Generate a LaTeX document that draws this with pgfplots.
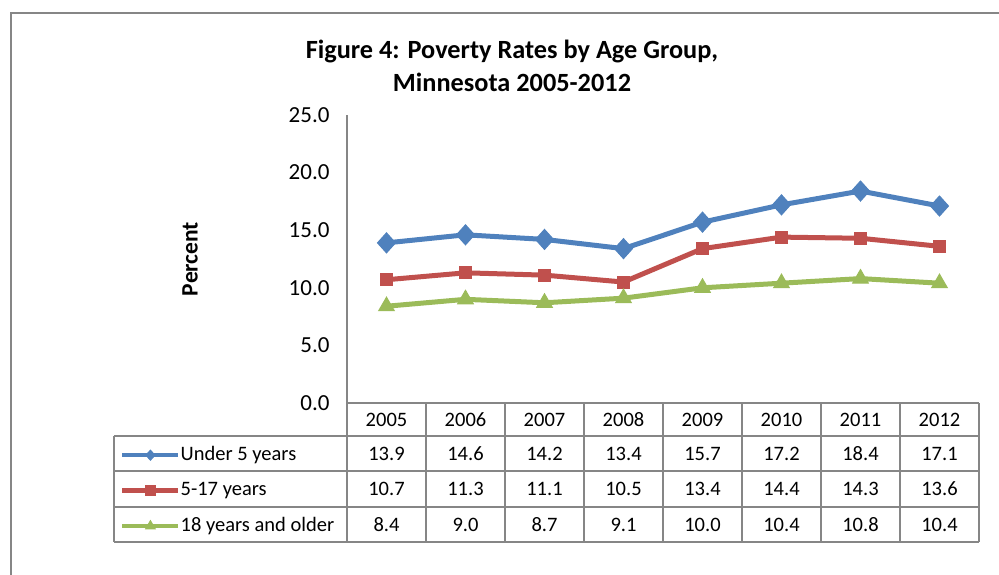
\documentclass[border=0pt]{standalone}
\usepackage{pgfplots}
\pgfplotsset{compat=1.18}
\usepackage{fontspec}
\setmainfont{Carlito}
\definecolor{cblue}{HTML}{4F81BD}
\definecolor{cred}{HTML}{C0504D}
\definecolor{cgreen}{HTML}{9BBB59}
\definecolor{cgrid}{HTML}{868686}
\begin{document}
\begin{tikzpicture}[x=1pt,y=1pt]
\useasboundingbox (0,0) rectangle (999,-575);
\draw[cgrid, line width=1.5pt] (11,-600) -- (11,-13) -- (1010,-13);
\node[font=\fontsize{26.3}{33}\selectfont\bfseries, align=center] at (512,-66) {Figure 4: Poverty Rates by Age Group,\\Minnesota 2005-2012};
\node[font=\fontsize{23.5}{28}\selectfont\bfseries, rotate=90] at (190,-259) {Percent};
\begin{axis}[
  at={(347pt,-403pt)}, anchor=south west,
  scale only axis, width=632pt, height=288pt,
  xmin=-0.5, xmax=7.5, ymin=0, ymax=25,
  axis x line=none, axis y line=left,
  axis line style={-, draw=cgrid, line width=1.5pt},
  ytick={0,5,...,25},
  major tick length=0pt,
  /pgf/number format/assume math mode=true,
  yticklabel style={/pgf/number format/.cd, fixed, fixed zerofill, precision=1, /tikz/.cd, font=\fontsize{23}{28}\selectfont, xshift=-14pt},
  clip=false,
  legend style={at={(-0.3592,-0.1458)}, anchor=north west, draw=none, fill=none, inner sep=0pt,
    row sep=15.5pt, column sep=0pt, font=\fontsize{20.5}{24}\selectfont,
    nodes={inner sep=0pt, text height=15pt, text depth=5pt}},
  legend cell align=left,
  legend image code/.code={\draw[#1, mark repeat=2, mark phase=2] plot coordinates {(0pt,0pt) (28pt,0pt) (56pt,0pt)};},
]
\addplot[cblue, line width=5pt, mark=diamond*, mark size=10pt, mark options={xscale=1.2, line width=1pt},
  legend image post style={mark size=5pt, line width=4.5pt}]
  coordinates {(0,13.9) (1,14.6) (2,14.2) (3,13.4) (4,15.7) (5,17.2) (6,18.4) (7,17.1)};
\addlegendentry{Under 5 years}
\addplot[cred, line width=5pt, mark=square*, mark size=6pt, mark options={line width=1pt},
  legend image post style={mark size=5pt, line width=4.5pt}]
  coordinates {(0,10.7) (1,11.3) (2,11.1) (3,10.5) (4,13.4) (5,14.4) (6,14.3) (7,13.6)};
\addlegendentry{5-17 years}
\addplot[cgreen, line width=5pt, mark=triangle*, mark size=9pt, mark options={line width=1pt},
  legend image post style={mark size=5.5pt, line width=4.5pt}]
  coordinates {(0,8.4) (1,9.0) (2,8.7) (3,9.1) (4,10.0) (5,10.4) (6,10.8) (7,10.4)};
\addlegendentry{18 years and older}
\end{axis}
% data table grid
\begin{scope}[cgrid, line width=1.5pt]
\draw (347,-403) -- (979,-403);
\foreach \yy in {436,471,507,542} \draw (114,-\yy) -- (979,-\yy);
\draw (114,-436) -- (114,-542);
\foreach \i in {0,...,8} \draw ({347+79*\i},-403) -- ({347+79*\i},-542);
\end{scope}
\begin{scope}[font=\fontsize{20.5}{24}\selectfont]
\foreach \t [count=\i from 0] in {2005,2006,2007,2008,2009,2010,2011,2012}
  \node at ({386.5+79*\i},-419.5) {\t};
\foreach \t [count=\i from 0] in {13.9,14.6,14.2,13.4,15.7,17.2,18.4,17.1}
  \node at ({386.5+79*\i},-453.5) {\t};
\foreach \t [count=\i from 0] in {10.7,11.3,11.1,10.5,13.4,14.4,14.3,13.6}
  \node at ({386.5+79*\i},-489) {\t};
\foreach \t [count=\i from 0] in {8.4,9.0,8.7,9.1,10.0,10.4,10.8,10.4}
  \node at ({386.5+79*\i},-524.5) {\t};
\end{scope}
\end{tikzpicture}
\end{document}
